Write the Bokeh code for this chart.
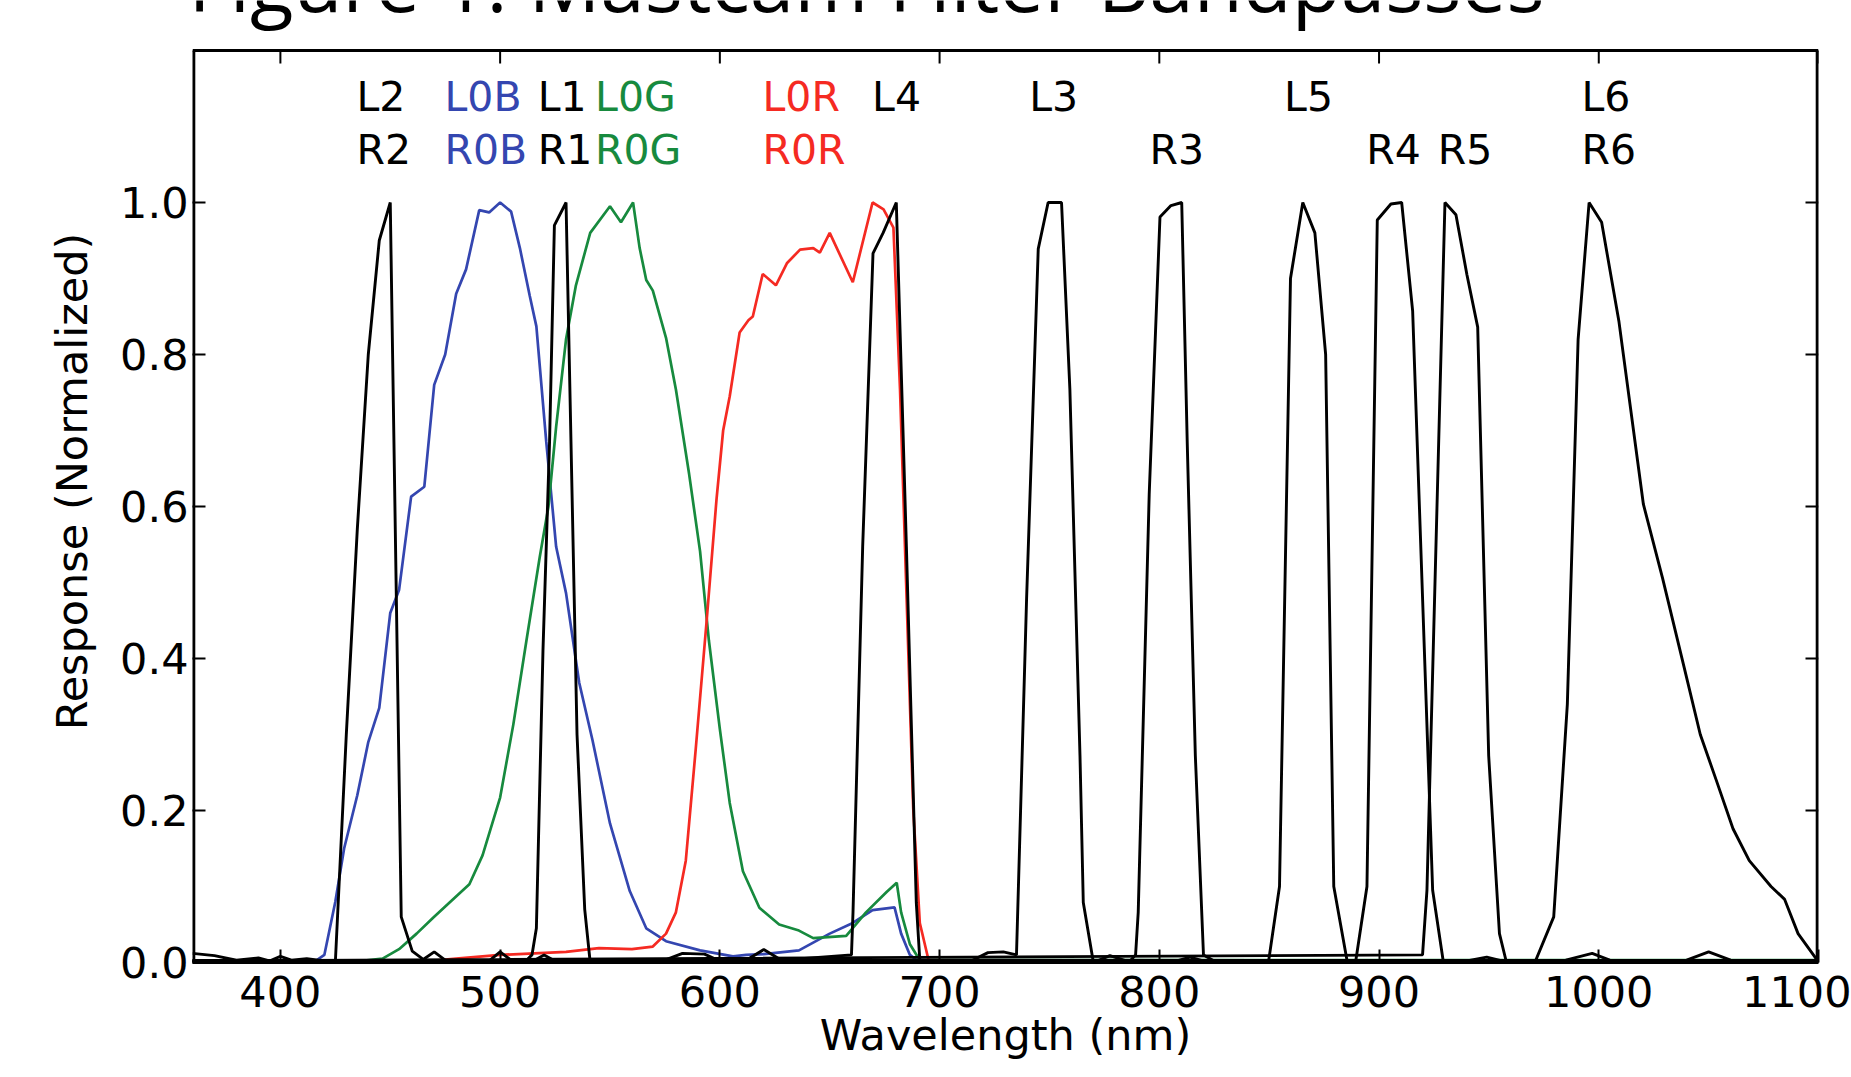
from math import pi
from bokeh.plotting import figure
from bokeh.models import Label, FixedTicker, PrintfTickFormatter, Range1d, ColumnDataSource
from bokeh.core.properties import value
from bokeh.embed import file_html
from bokeh.resources import INLINE

# ---------------- data ----------------
x_ticks = [400, 500, 600, 700, 800, 900, 1000, 1100]
y_ticks = [0.0, 0.2, 0.4, 0.6, 0.8, 1.0]
x_min, x_max = 360, 1100
y_min, y_max = 0.0, 1.2

# Bayer filters
wl_B0 = [360, 400, 415, 420, 425, 429, 435, 440, 445, 450, 454, 459.5, 465.5, 470, 475, 480, 484.5, 490.5, 495,
         500, 505, 509, 513.5, 516.5, 521, 525.5, 530, 536, 542, 550, 559, 566.5, 575.5, 591, 606, 612, 620, 636,
         650, 660.5, 669.5, 679.5, 682.5, 686.5, 691, 700, 1100]
resp_B0 = [0.002, 0.002, 0.0, 0.01, 0.08, 0.15, 0.22, 0.29, 0.335, 0.46, 0.49, 0.613, 0.626, 0.76, 0.80, 0.88, 0.912,
           0.99, 0.987, 1.0, 0.988, 0.94, 0.877, 0.837, 0.685, 0.547, 0.486, 0.368, 0.293, 0.183, 0.094, 0.045, 0.028,
           0.016, 0.008, 0.01, 0.011, 0.016, 0.038, 0.052, 0.069, 0.0725, 0.038, 0.01, 0.0, 0.002, 0.002]

wl_G0 = [360, 430, 446.5, 454, 462, 469.5, 477, 486, 492, 500, 506, 512, 518, 522, 525.5, 530, 534.5, 541, 550, 555,
         560.5, 563.5, 566.5, 569.5, 575.5, 580, 586, 591, 595, 600, 604.5, 610.5, 618, 627, 636, 642.5, 657.5, 666.5,
         676, 680.5, 682.5, 686.5, 691, 700, 1100]
resp_G0 = [0.0, 0.0, 0.005, 0.0175, 0.038, 0.059, 0.079, 0.103, 0.141, 0.217, 0.313, 0.424, 0.533, 0.60, 0.705, 0.82,
           0.891, 0.96, 0.995, 0.974, 1.0, 0.94, 0.898, 0.884, 0.822, 0.754, 0.643, 0.541, 0.424, 0.307, 0.21, 0.12,
           0.072, 0.05, 0.042, 0.032, 0.035, 0.066, 0.093, 0.105, 0.066, 0.024, 0.003, 0.003, 0.003]

wl_R0 = [360, 460, 480, 500, 530, 545, 560, 569.5, 575.5, 580, 584.5, 589, 594, 598.5, 601.5, 604.5, 609, 613, 615,
         619.5, 625.5, 630.5, 636.5, 642.5, 645.5, 650, 660.5, 669.5, 674.5, 679, 682, 685, 688, 691, 695, 700, 1100]
resp_R0 = [0.0, 0.0, 0.005, 0.01, 0.014, 0.019, 0.0175, 0.021, 0.038, 0.066, 0.134, 0.28, 0.45, 0.61, 0.70, 0.745,
           0.829, 0.845, 0.85, 0.906, 0.891, 0.92, 0.938, 0.94, 0.934, 0.96, 0.895, 1.0, 0.991, 0.967, 0.754, 0.479,
           0.203, 0.052, 0.003, 0.002, 0.002]

# narrow-band filters (black)
wl_L2 = [360, 370, 380, 390, 395, 400, 405, 412, 420, 425, 430, 435, 440, 445, 450, 455, 460, 465, 470, 475, 490, 1100]
resp_L2 = [0.012, 0.009, 0.003, 0.006, 0.002, 0.008, 0.003, 0.005, 0.002, 0.0, 0.30, 0.57, 0.80, 0.95, 1.0, 0.06,
           0.015, 0.004, 0.014, 0.003, 0.002, 0.002]

wl_L1 = [360, 495, 500, 505, 512, 514.5, 516.5, 519.5, 522.5, 524.7, 530, 535, 538.5, 541, 560, 575, 583, 593, 600, 1100]
resp_L1 = [0.002, 0.002, 0.014, 0.003, 0.003, 0.01, 0.045, 0.41, 0.685, 0.97, 1.0, 0.30, 0.07, 0.0, 0.002, 0.003,
           0.012, 0.011, 0.002, 0.002]

wl_L4 = [360, 515, 520, 525, 612, 620, 628, 659.9, 660.6, 665, 669.7, 674.3, 680.3, 684.9, 689.4, 691, 1100]
resp_L4 = [0.002, 0.002, 0.01, 0.002, 0.003, 0.017, 0.003, 0.01, 0.066, 0.547, 0.933, 0.96, 1.0, 0.547, 0.079, 0.003,
           0.002]

wl_L3 = [360, 715, 722, 729, 735, 739.6, 744.9, 749.4, 755.5, 759.3, 763.9, 765.4, 770, 777.5, 785, 1100]
resp_L3 = [0.002, 0.003, 0.013, 0.014, 0.01, 0.479, 0.939, 1.0, 1.0, 0.754, 0.272, 0.079, 0.0, 0.009, 0.002, 0.002]

wl_R3 = [360, 786.7, 789.2, 790.4, 795.4, 800.3, 805.3, 810.2, 812.7, 816.4, 820.1, 825, 1100]
resp_R3 = [0.002, 0.002, 0.01, 0.066, 0.616, 0.981, 0.996, 1.0, 0.685, 0.272, 0.01, 0.002, 0.002]

wl_L5 = [360, 808, 814, 820, 849.8, 854.7, 859.7, 865.3, 870.8, 875.7, 879.4, 885.6, 895, 1100]
resp_L5 = [0.002, 0.002, 0.007, 0.002, 0.003, 0.10, 0.90, 1.0, 0.96, 0.80, 0.10, 0.0, 0.002, 0.002]

wl_R4 = [360, 889.3, 894.5, 899.2, 905.4, 910.3, 915.3, 924.4, 929.3, 940, 949, 956, 1040, 1050, 1060, 1100]
resp_R4 = [0.002, 0.0, 0.10, 0.977, 0.998, 1.0, 0.857, 0.095, 0.0, 0.002, 0.007, 0.002, 0.003, 0.014, 0.003, 0.002]

wl_R5 = [360, 919.8, 921.8, 930, 935, 940, 944.9, 949.9, 954.8, 958, 985, 997, 1005, 1100]
resp_R5 = [0.002, 0.01, 0.095, 1.0, 0.984, 0.905, 0.836, 0.272, 0.038, 0.0, 0.003, 0.012, 0.003, 0.002]

wl_L6 = [360, 960, 970.9, 979.5, 985.7, 990.6, 995.6, 1001.3, 1009.2, 1020.3, 1029, 1038.8, 1046.2, 1053.7, 1061.1,
         1068.5, 1078.4, 1084.6, 1090.7, 1099.4, 1100]
resp_L6 = [0.002, 0.002, 0.0, 0.06, 0.34, 0.82, 1.0, 0.974, 0.843, 0.603, 0.506, 0.389, 0.30, 0.238, 0.176, 0.134,
           0.10, 0.083, 0.038, 0.003, 0.002]

# filter labels
label_text = ["L2", "L0B", "L1", "L0G", "L0R", "L4", "L3", "L5", "L6",
              "R2", "R0B", "R1", "R0G", "R0R", "R3", "R4", "R5", "R6"]
label_x = [434.6, 474.7, 517.1, 543.2, 619.4, 669.3, 740.8, 856.8, 992.1,
           434.6, 474.7, 517.1, 543.2, 619.4, 795.5, 894.2, 926.7, 992.1]
label_y = [1.139] * 9 + [1.069] * 9
label_kind = ["k", "b", "k", "g", "r", "k", "k", "k", "k",
              "k", "b", "k", "g", "r", "k", "k", "k", "k"]

title_text = "Figure 1: Mastcam Filter Bandpasses"
x_title = "Wavelength (nm)"
y_title = "Response (Normalized)"

# ---------------- layout / styling ----------------
BLUE = "#3446b0"
GREEN = "#178a3e"
RED = "#f52a22"
colmap = {"k": "black", "b": BLUE, "g": GREEN, "r": RED}
FONT = "DejaVu Sans"

W, H = 1851, 1077
LEFT, RIGHT, BOTTOM = 192, 33, 115
BOX_TOP = 50                       # pixel row of the top edge of the plot box
frame_h = H - BOTTOM               # the frame runs to the top of the canvas (room for the clipped title)
y_view_top = y_max * frame_h / (frame_h - BOX_TOP)

p = figure(width=W, height=H, x_range=Range1d(x_min, x_max), y_range=Range1d(y_min, y_view_top),
           output_backend="svg", toolbar_location=None,
           min_border_left=LEFT, min_border_right=RIGHT, min_border_top=0, min_border_bottom=BOTTOM)
p.xgrid.visible = False
p.ygrid.visible = False
p.outline_line_color = None
p.background_fill_color = "white"
p.border_fill_color = "white"

for ax in (p.xaxis[0], p.yaxis[0]):
    ax.axis_line_width = 2.8
    ax.axis_line_color = "black"
    ax.major_tick_in = 13
    ax.major_tick_out = 0
    ax.major_tick_line_width = 2
    ax.minor_tick_line_color = None
    ax.major_label_text_font = FONT
    ax.major_label_text_font_size = "43px"
    ax.major_label_text_color = "black"
    ax.axis_label_text_font = FONT
    ax.axis_label_text_font_size = "43px"
    ax.axis_label_text_font_style = "normal"
    ax.axis_label_text_color = "black"

p.yaxis[0].axis_line_color = None   # left edge of the box is drawn below, up to y_max only
p.xaxis[0].ticker = FixedTicker(ticks=x_ticks)
p.yaxis[0].ticker = FixedTicker(ticks=y_ticks)
p.yaxis[0].formatter = PrintfTickFormatter(format="%.1f")
p.xaxis[0].major_label_standoff = 13
p.xaxis[0].axis_label = x_title
p.xaxis[0].axis_label_standoff = 0
p.yaxis[0].major_label_standoff = 4
p.yaxis[0].axis_label = y_title
p.yaxis[0].axis_label_standoff = 20

# plot box edges (left/right are half clipped by the frame, hence the double width)
p.segment(x0=[x_min, x_max], y0=[y_min, y_min], x1=[x_min, x_max], y1=[y_max, y_max],
          line_color="black", line_width=5.6)
p.segment(x0=[x_min], y0=[y_max], x1=[x_max], y1=[y_max], line_color="black", line_width=2.8)

# inward ticks on the top and right edges of the box
p.ray(x=x_ticks, y=[y_max] * len(x_ticks), length=13, length_units="screen", angle=-pi / 2,
      line_color="black", line_width=2)
p.ray(x=[x_max] * len(y_ticks), y=y_ticks, length=13, length_units="screen", angle=pi,
      line_color="black", line_width=2)

# Bayer curves
p.line(wl_B0, resp_B0, line_color=BLUE, line_width=2.7)
p.line(wl_G0, resp_G0, line_color=GREEN, line_width=2.7)
p.line(wl_R0, resp_R0, line_color=RED, line_width=2.7)

# narrow-band curves
for wl, rs in ((wl_L2, resp_L2), (wl_L1, resp_L1), (wl_L4, resp_L4), (wl_L3, resp_L3), (wl_R3, resp_R3),
               (wl_L5, resp_L5), (wl_R4, resp_R4), (wl_R5, resp_R5), (wl_L6, resp_L6)):
    p.line(wl, rs, line_color="black", line_width=2.9)

src = ColumnDataSource(dict(x=label_x, y=label_y, text=label_text,
                            color=[colmap[k] for k in label_kind]))
p.text(x="x", y="y", text="text", text_color="color", source=src,
       text_font=value(FONT), text_font_size="41px", text_baseline="middle", text_align="left")

# figure title: runs off the top of the page, as in the reference
px_per_unit = (frame_h - BOX_TOP) / (y_max - y_min)
p.add_layout(Label(x=x_min - 4 / 2.197, y=y_max + (BOX_TOP + 19.6) / px_per_unit,
                   text=title_text, text_font="Open Sans", text_font_size="80px", text_color="black",
                   text_baseline="middle", text_align="left"))

open("out.html", "w").write(file_html(p, INLINE))
